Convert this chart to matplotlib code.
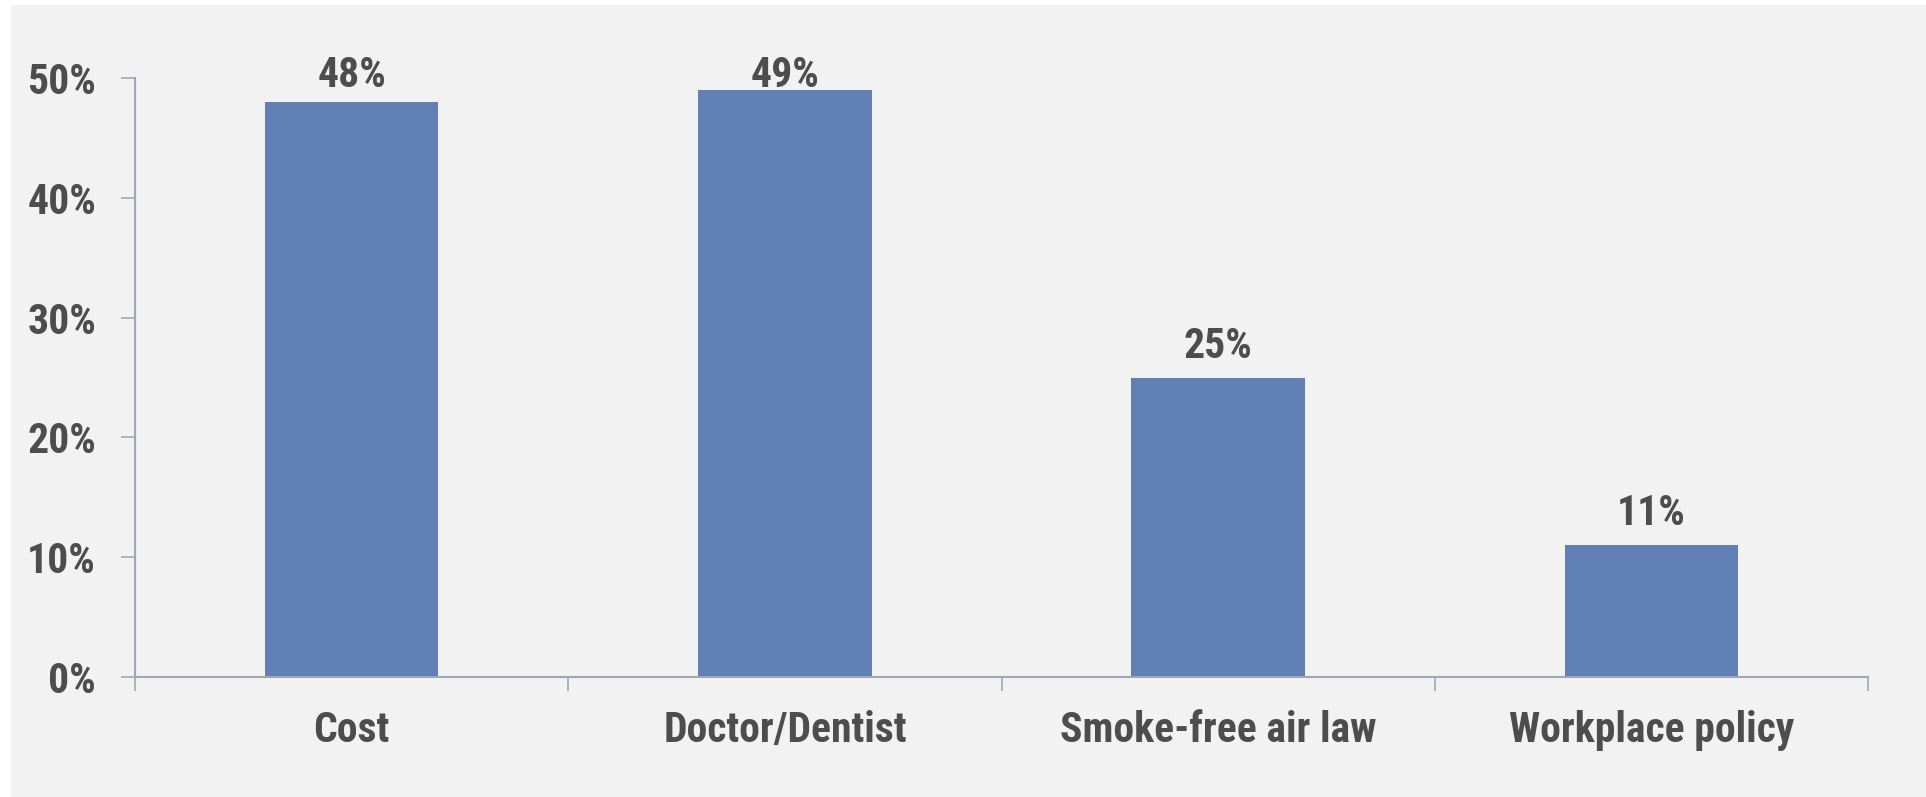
import matplotlib
matplotlib.use('Agg')
import matplotlib.pyplot as plt
from matplotlib.patches import Rectangle

## Data
categories = ['Cost', 'Doctor/Dentist', 'Smoke-free air law', 'Workplace policy']
values = [48, 49, 25, 11]
ytick_vals = [0, 10, 20, 30, 40, 50]

## Style
plt.rcParams['font.family'] = ['Roboto Condensed', 'Liberation Sans Narrow', 'Roboto', 'DejaVu Sans']
plt.rcParams['font.stretch'] = 'condensed'
txt_col = '#4d4d4d'
bar_col = '#5f7fb5'
axis_col = '#a3a7b5'
fs = 30

fig = plt.figure(figsize=(19.26, 7.97), dpi=100)
fig.patch.set_facecolor('white')
fig.patches.append(Rectangle((11/1926, 0), 1 - 11/1926, 1 - 5/797, transform=fig.transFigure,
                             facecolor='#f2f2f2', edgecolor='none', zorder=-10))

ax = fig.add_axes([135/1926, 1 - 677/797, (1868 - 135)/1926, (677 - 78)/797])
ax.set_facecolor('none')

x = range(len(categories))
ax.bar(x, values, width=0.4, color=bar_col, zorder=2)
# labels sit ~20px above the bar, but are held below the top of the plot
for i, v in enumerate(values):
    ly = min(v + 1.65, 49.25)
    ax.text(i, ly, '%d%%' % v, ha='center', va='baseline',
            fontsize=fs, fontweight='bold', color=txt_col)

ax.set_xlim(-0.5, len(categories) - 0.5)
ax.set_ylim(0, 50)
ax.set_yticks(ytick_vals)
ax.set_yticklabels(['%d%%' % t for t in ytick_vals])
ax.set_xticks([i + 0.5 for i in range(-1, len(categories))], minor=False)
ax.set_xticklabels([''] * (len(categories) + 1))
ax.set_xticks(list(x), minor=True)
ax.set_xticklabels(categories, minor=True)

ax.tick_params(axis='x', which='major', length=10, color=axis_col, width=1.2, direction='out')
ax.tick_params(axis='x', which='minor', length=0, pad=24, labelsize=fs, labelcolor=txt_col)
ax.tick_params(axis='y', length=10, color=axis_col, width=1.2, pad=18, labelsize=fs, labelcolor=txt_col)
for lab in ax.get_xticklabels(minor=True) + ax.get_yticklabels():
    lab.set_fontweight('bold')

for s in ['top', 'right']:
    ax.spines[s].set_visible(False)
for s in ['left', 'bottom']:
    ax.spines[s].set_color(axis_col)
    ax.spines[s].set_linewidth(1.5)

fig.savefig('out.png', dpi=100, facecolor=fig.get_facecolor())
